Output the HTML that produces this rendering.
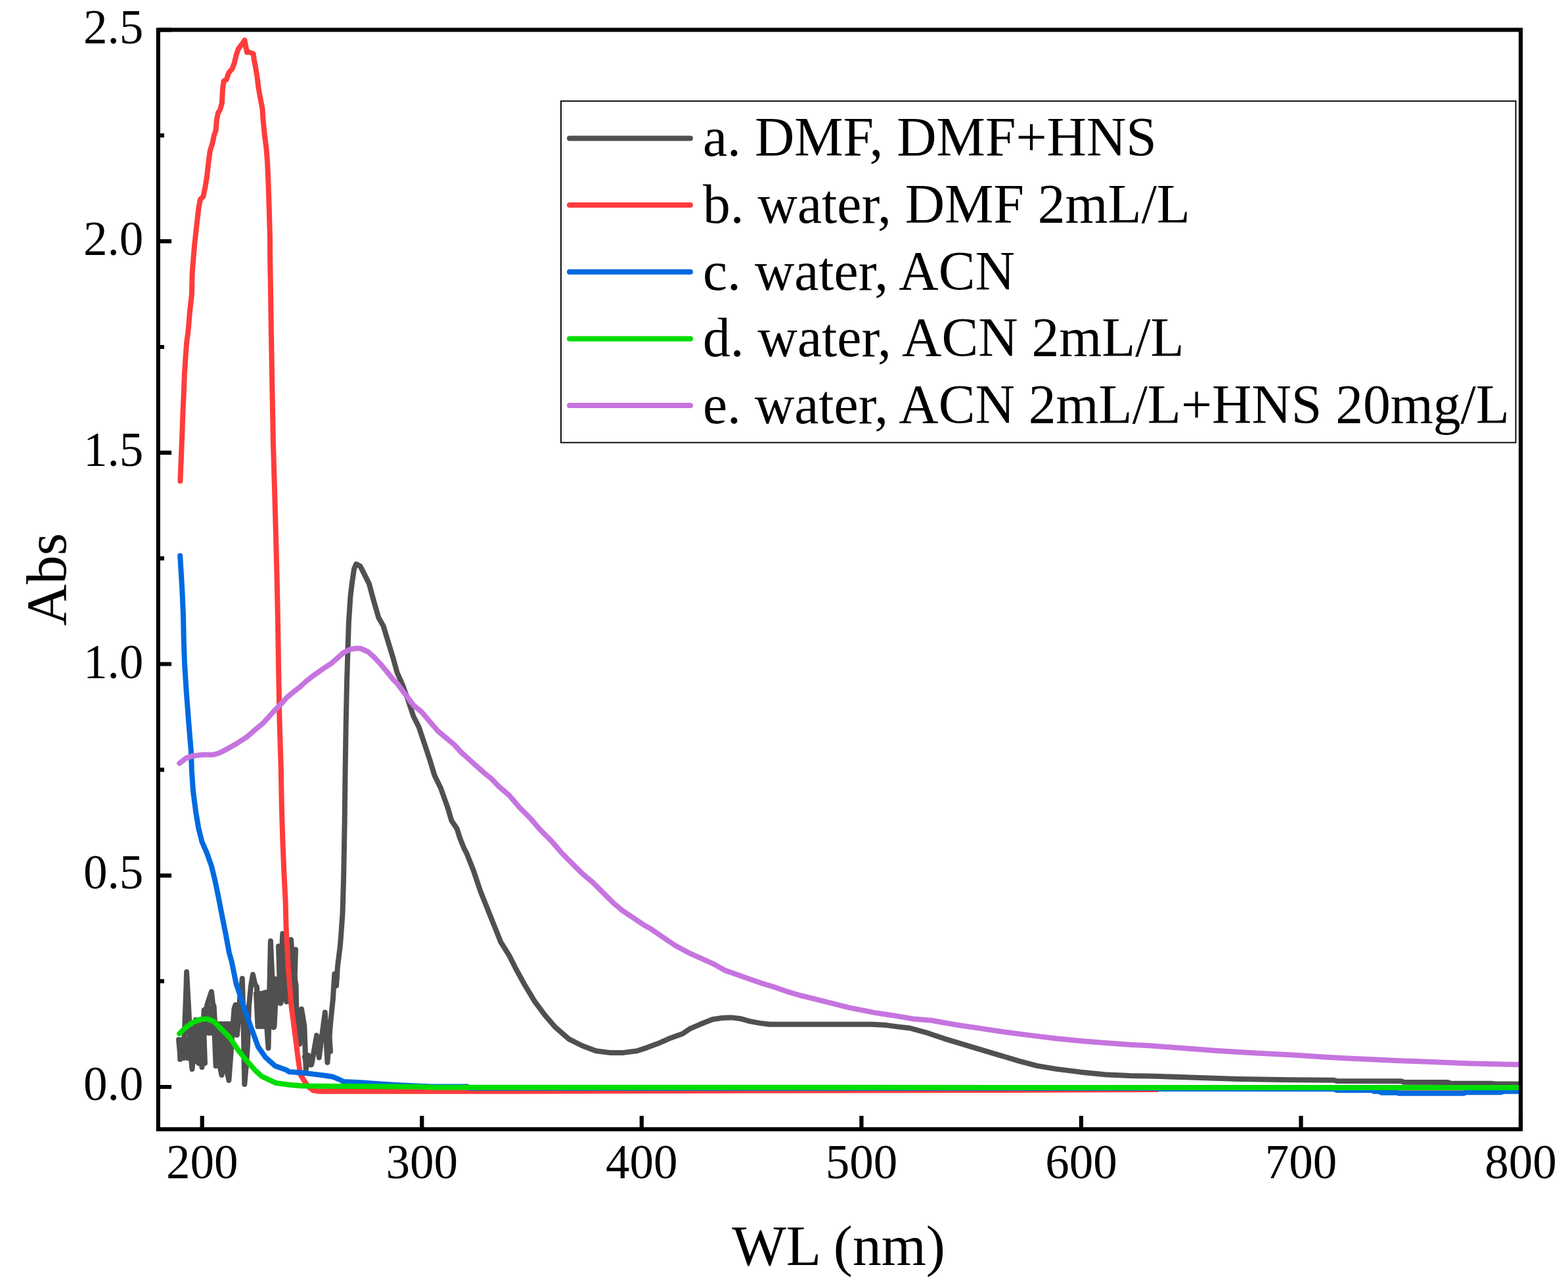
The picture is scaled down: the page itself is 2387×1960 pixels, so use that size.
<!DOCTYPE html>
<html><head><meta charset="utf-8"><title>UV-Vis absorption spectra</title>
<style>html,body{margin:0;padding:0;background:#fff;}svg{display:block;}</style>
</head><body>
<svg width="2387" height="1960" viewBox="0 0 2387 1960">
<rect width="2387" height="1960" fill="#ffffff"/>
<defs><clipPath id="pc"><rect x="240.8" y="45.4" width="2074.2" height="1673.0"/></clipPath></defs>
<g fill="none" stroke-width="8" stroke-linejoin="round" stroke-linecap="round" clip-path="url(#pc)">
<polyline stroke="#505050" points="272.0,1582.0 274.6,1610.0 277.2,1582.0 279.8,1610.0 282.4,1582.0 285.0,1610.0"/>
<polyline stroke="#505050" points="289.0,1565.0 291.8,1615.0 294.5,1565.0 297.2,1615.0 300.0,1565.0"/>
<polyline stroke="#505050" points="300.0,1570.0 302.4,1618.0 304.8,1560.0 307.2,1618.0 309.6,1550.0 312.0,1618.0"/>
<polyline stroke="#505050" points="311.0,1538.0 313.4,1572.0 315.9,1535.7 318.3,1572.0 320.7,1533.4 323.1,1572.0 325.6,1531.1 328.0,1572.0"/>
<polyline stroke="#505050" points="326.0,1558.0 328.6,1622.0 331.2,1558.0 333.8,1622.0 336.4,1558.0 339.0,1622.0 341.6,1558.0 344.2,1622.0 346.8,1558.0 349.4,1622.0 352.0,1558.0"/>
<polyline stroke="#505050" points="390.0,1512.0 392.5,1562.0 395.0,1512.0 397.5,1562.0 400.0,1512.0 402.5,1562.0 405.0,1512.0 407.5,1562.0 410.0,1512.0 412.5,1562.0 415.0,1512.0 417.5,1562.0 420.0,1512.0"/>
<polyline stroke="#505050" points="420.0,1492.0 422.5,1526.0 425.0,1492.0 427.5,1526.0 430.0,1492.0"/>
<polyline stroke="#505050" points="424.0,1440.0 426.5,1520.0 429.0,1440.0 431.5,1520.0 434.0,1440.0"/>
<polyline stroke="#505050" points="440.0,1445.0 442.5,1525.0 445.0,1445.0 447.5,1525.0 450.0,1445.0"/>
<polyline stroke="#505050" points="451.0,1540.0 453.3,1582.0 455.7,1540.0 458.0,1582.0"/>
<polyline stroke="#505050" points="464.0,1608.0 466.7,1620.0 469.3,1608.0 472.0,1620.0"/>
<polyline stroke="#505050" points="495.0,1560.0 497.7,1600.0 500.3,1560.0 503.0,1600.0"/>
<polyline stroke="#505050" points="274.2,1612.0 275.3,1584.0 280.0,1595.0 283.5,1500.0 284.1,1479.0 287.5,1540.0 290.0,1600.0 292.5,1627.0 295.0,1600.0 298.0,1552.0 300.5,1590.0 302.0,1615.0 303.5,1590.0 305.0,1560.0 306.0,1605.0 307.4,1624.0 309.5,1570.0 310.5,1537.0 314.0,1535.0 316.5,1525.0 321.9,1509.0 325.5,1540.0 327.5,1575.0 331.0,1578.0 333.0,1615.0 337.5,1636.0 340.5,1620.0 343.5,1605.0 345.5,1630.0 348.4,1644.0 351.0,1610.0 353.6,1574.0 356.5,1535.0 358.5,1529.0 360.8,1575.0 363.0,1552.0 365.0,1520.0 368.8,1489.0 370.0,1530.0 372.3,1650.0 375.0,1620.0 377.0,1590.0 379.0,1530.0 382.0,1500.0 385.0,1483.0 388.0,1497.0 391.0,1502.0 393.0,1560.0 395.0,1520.0 398.0,1512.0 405.0,1510.0 406.0,1560.0 408.5,1595.0 410.0,1520.0 411.9,1432.0 414.0,1480.0 416.5,1563.5 418.5,1495.0 420.0,1489.8 422.0,1500.0 426.9,1526.7 428.0,1470.0 430.3,1420.7 432.0,1450.0 436.1,1524.4 438.0,1480.0 443.0,1430.0 446.0,1470.0 450.6,1500.0 451.5,1549.0 456.0,1589.0 459.0,1535.6 463.3,1561.0 465.7,1627.6 469.4,1606.0 474.2,1620.3 482.1,1575.6 485.7,1609.4 494.8,1540.5 498.4,1616.7 503.3,1555.0 506.9,1520.0 509.3,1482.0 512.0,1500.0 514.0,1470.0 517.8,1440.0 519.4,1420.0 521.5,1390.0 523.1,1336.0 524.6,1253.0 525.6,1170.0 526.7,1100.0 528.1,1035.7 530.8,948.6 533.5,907.1 536.0,886.4 539.1,865.6 542.2,858.4 548.4,861.5 554.7,873.9 561.9,888.4 569.2,915.4 576.5,940.3 583.7,952.8 589.9,973.5 598.2,1000.5 604.5,1023.3 612.8,1042.0 621.0,1064.8 629.3,1089.7 637.6,1106.2 645.9,1131.1 654.2,1156.0 661.5,1180.0 670.8,1199.0 681.2,1228.0 687.4,1248.8 695.7,1261.3 700.0,1275.0 706.1,1290.3 710.4,1298.5 720.7,1324.4 731.1,1355.6 741.5,1381.5 751.9,1407.4 762.2,1433.3 775.2,1454.1 785.6,1474.8 798.5,1498.2 814.1,1524.1 829.6,1544.8 845.2,1563.0 865.9,1581.1 886.7,1591.5 907.4,1599.3 928.2,1601.9 948.9,1601.9 969.6,1599.3 985.2,1594.1 1001.4,1588.1 1018.4,1580.6 1039.2,1573.0 1050.5,1565.4 1065.7,1558.8 1084.6,1551.2 1099.7,1549.0 1113.0,1548.4 1128.1,1550.3 1141.4,1554.1 1156.5,1556.9 1171.6,1558.8 1326.8,1558.8 1349.5,1560.1 1368.4,1562.6 1385.0,1564.5 1408.4,1570.8 1436.8,1580.3 1465.1,1588.8 1493.5,1597.3 1521.9,1605.8 1550.3,1614.3 1578.7,1621.9 1607.1,1626.6 1644.9,1631.4 1682.7,1635.2 1720.6,1637.0 1760.0,1637.8 1803.9,1639.2 1884.8,1641.9 1965.7,1643.3 2031.0,1643.8 2035.0,1645.0 2133.0,1645.3 2137.0,1646.8 2204.0,1647.0 2208.0,1648.5 2271.0,1648.7 2275.0,1649.6 2315.0,1649.6"/>
<polyline stroke="#FF3C3C" points="274.4,732.0 275.3,709.4 277.0,668.0 278.4,628.5 279.8,597.4 280.9,568.4 282.5,543.5 284.0,522.7 286.7,502.0 288.7,477.0 291.9,448.0 292.7,414.3 294.4,393.6 296.1,372.9 298.4,352.1 300.7,331.4 302.5,316.4 304.8,303.7 309.4,299.1 312.3,285.3 315.1,268.0 317.4,247.3 319.7,230.0 323.5,217.8 325.8,206.3 328.6,198.2 329.8,183.2 332.1,171.7 335.0,167.1 337.9,156.8 339.0,134.9 340.7,123.3 344.8,121.0 348.2,110.7 353.4,104.9 356.9,95.7 359.2,85.3 362.6,75.0 364.9,71.5 369.5,65.7 372.4,61.1 374.1,70.3 375.9,79.6 379.9,79.6 385.7,81.9 386.8,91.1 389.1,102.6 391.4,116.4 393.7,134.9 396.6,151.0 399.5,166.0 400.6,183.2 402.9,206.3 405.3,224.7 407.0,245.0 408.4,276.5 409.7,316.0 411.0,363.6 411.1,390.0 411.7,425.0 412.8,500.0 414.2,580.8 415.9,674.0 418.0,745.0 419.6,802.0 421.5,874.8 423.0,947.4 424.2,1026.0 425.6,1100.0 427.7,1166.7 428.8,1226.9 430.4,1280.8 432.5,1330.6 434.6,1372.0 435.6,1412.3 438.9,1473.5 443.7,1533.0 448.0,1565.0 453.0,1605.0 457.2,1634.9 465.2,1648.1 471.0,1655.0 477.1,1659.5 488.0,1660.7 784.0,1660.7 1115.0,1659.8 1500.0,1659.0 1761.0,1658.1 1765.0,1656.0 2127.0,1655.7 2226.0,1655.7 2315.0,1655.7"/>
<polyline stroke="#006AE0" points="274.2,845.8 275.3,864.5 277.3,897.6 279.0,937.0 279.8,976.5 281.0,1009.7 283.6,1051.0 287.3,1100.0 290.8,1141.9 291.9,1173.0 294.0,1204.0 298.0,1235.0 302.2,1260.0 307.4,1280.8 314.7,1297.4 322.0,1318.0 327.1,1339.0 332.3,1363.8 337.5,1390.8 343.7,1421.9 348.9,1450.0 352.9,1464.2 359.4,1496.5 367.4,1520.6 377.1,1549.7 384.8,1570.3 392.9,1592.9 404.2,1609.0 418.7,1622.0 436.5,1628.4 440.0,1630.9 460.6,1632.5 479.7,1634.9 493.0,1636.5 506.2,1638.5 515.0,1642.0 523.4,1646.0 552.6,1647.5 579.0,1649.5 612.2,1651.4 651.9,1653.2 711.5,1653.4 714.0,1655.8 1115.0,1656.0 1761.0,1656.0 1765.0,1657.0 2031.0,1657.2 2035.0,1659.1 2088.0,1659.1 2092.0,1660.7 2099.0,1660.7 2103.0,1662.7 2126.0,1662.7 2130.0,1663.8 2228.0,1663.8 2232.0,1662.2 2285.0,1662.2 2289.0,1660.7 2315.0,1660.7"/>
<polyline stroke="#00DD00" points="273.1,1573.0 281.9,1564.2 293.2,1556.1 304.5,1551.3 315.8,1550.5 325.5,1554.5 336.8,1565.8 349.7,1578.7 362.6,1598.0 375.5,1614.2 388.4,1628.7 398.1,1637.6 409.4,1643.2 420.0,1648.0 440.0,1650.7 460.0,1652.6 519.5,1653.0 600.0,1653.5 640.0,1653.8 657.0,1654.7 1000.0,1654.8 2315.0,1655.0"/>
<polyline stroke="#C674DF" points="273.2,1161.6 283.6,1153.3 294.0,1150.2 308.4,1148.5 325.0,1148.5 333.3,1146.0 345.8,1139.8 360.3,1131.5 374.8,1122.2 389.3,1109.7 400.0,1101.0 409.5,1090.6 418.9,1080.2 428.4,1070.7 437.8,1060.3 447.3,1052.7 456.8,1045.1 466.2,1036.6 475.7,1029.1 485.1,1022.4 494.6,1015.8 504.1,1009.7 513.5,1001.6 523.0,993.1 532.5,988.4 541.9,986.5 549.5,987.0 560.8,992.2 570.3,1000.7 579.8,1011.1 589.2,1022.4 600.0,1035.7 604.5,1039.9 616.9,1056.5 629.3,1073.0 641.8,1083.4 654.2,1098.0 666.7,1112.5 679.1,1122.8 691.6,1133.2 701.5,1144.2 713.0,1154.6 724.6,1164.9 736.1,1175.3 747.6,1184.5 759.1,1196.6 775.2,1210.4 790.7,1228.5 806.3,1244.1 821.9,1262.2 840.0,1280.4 855.6,1298.5 871.1,1314.1 886.7,1329.6 902.2,1342.6 917.8,1358.2 933.3,1373.7 948.9,1386.7 964.5,1397.0 980.0,1407.4 990.0,1413.0 1008.9,1426.0 1027.8,1438.7 1046.8,1449.1 1065.7,1457.6 1084.6,1466.1 1103.5,1476.6 1122.5,1483.2 1141.4,1489.9 1160.3,1496.5 1179.2,1502.2 1198.1,1508.8 1217.1,1514.5 1236.0,1519.2 1254.9,1523.9 1273.8,1528.6 1292.7,1533.4 1311.7,1537.2 1330.6,1540.9 1349.5,1543.8 1368.4,1546.6 1390.0,1550.5 1417.8,1552.8 1455.7,1559.5 1493.5,1565.1 1531.4,1570.8 1569.2,1575.6 1607.1,1580.3 1644.9,1584.1 1682.7,1586.9 1720.6,1589.7 1750.0,1591.2 1803.9,1595.3 1857.8,1599.3 1911.8,1602.6 1965.7,1605.2 2019.6,1608.8 2073.5,1611.4 2127.5,1614.1 2181.4,1616.0 2235.3,1618.2 2314.8,1620.1"/>
</g>
<rect x="240.8" y="45.4" width="2074.2" height="1673.0" fill="none" stroke="#000" stroke-width="6.2" stroke-linejoin="miter"/>
<path d="M307.7,1718.3V1698.0M642.3,1718.3V1698.0M976.8,1718.3V1698.0M1311.4,1718.3V1698.0M1645.9,1718.3V1698.0M1980.5,1718.3V1698.0M2315.0,1718.3V1698.0M240.8,1654.0H261.0M240.8,1332.3H261.0M240.8,1010.5H261.0M240.8,688.8H261.0M240.8,367.1H261.0M240.8,45.4H261.0M240.8,1493.1H250.0M240.8,1171.4H250.0M240.8,849.7H250.0M240.8,528.0H250.0M240.8,206.2H250.0" stroke="#000" stroke-width="6.2" fill="none"/>
<g font-family="'Liberation Serif','Times New Roman',serif" font-size="73" fill="#000">
<text x="307.7" y="1793.3" text-anchor="middle">200</text>
<text x="642.3" y="1793.3" text-anchor="middle">300</text>
<text x="976.8" y="1793.3" text-anchor="middle">400</text>
<text x="1311.4" y="1793.3" text-anchor="middle">500</text>
<text x="1645.9" y="1793.3" text-anchor="middle">600</text>
<text x="1980.5" y="1793.3" text-anchor="middle">700</text>
<text x="2315.0" y="1793.3" text-anchor="middle">800</text>
<text x="218.2" y="1674.0" text-anchor="end">0.0</text>
<text x="218.2" y="1352.4" text-anchor="end">0.5</text>
<text x="218.2" y="1031.9" text-anchor="end">1.0</text>
<text x="218.2" y="708.7" text-anchor="end">1.5</text>
<text x="218.2" y="387.6" text-anchor="end">2.0</text>
<text x="218.2" y="65.8" text-anchor="end">2.5</text>
</g>
<text x="1276.5" y="1924.9" text-anchor="middle" font-family="'Liberation Serif','Times New Roman',serif" font-size="87.5" fill="#000">WL (nm)</text>
<text transform="translate(99.5,881.8) rotate(-90)" x="0" y="0" text-anchor="middle" font-family="'Liberation Serif','Times New Roman',serif" font-size="87.5" fill="#000">Abs</text>
<rect x="854" y="153.8" width="1453.5" height="519.7" fill="#ffffff" stroke="#000" stroke-width="1.9"/>
<line x1="867" y1="210.4" x2="1051" y2="210.4" stroke="#505050" stroke-width="8" stroke-linecap="round"/>
<text x="1070" y="237.4" font-family="'Liberation Serif','Times New Roman',serif" font-size="83.6" fill="#000">a. DMF, DMF+HNS</text>
<line x1="867" y1="312.1" x2="1051" y2="312.1" stroke="#FF3C3C" stroke-width="8" stroke-linecap="round"/>
<text x="1070" y="339.1" font-family="'Liberation Serif','Times New Roman',serif" font-size="83.6" fill="#000">b. water, DMF 2mL/L</text>
<line x1="867" y1="413.7" x2="1051" y2="413.7" stroke="#006AE0" stroke-width="8" stroke-linecap="round"/>
<text x="1070" y="440.7" font-family="'Liberation Serif','Times New Roman',serif" font-size="83.6" fill="#000">c. water, ACN</text>
<line x1="867" y1="515.4" x2="1051" y2="515.4" stroke="#00DD00" stroke-width="8" stroke-linecap="round"/>
<text x="1070" y="542.4" font-family="'Liberation Serif','Times New Roman',serif" font-size="83.6" fill="#000">d. water, ACN 2mL/L</text>
<line x1="867" y1="617.0" x2="1051" y2="617.0" stroke="#C674DF" stroke-width="8" stroke-linecap="round"/>
<text x="1070" y="644.0" font-family="'Liberation Serif','Times New Roman',serif" font-size="83.6" fill="#000">e. water, ACN 2mL/L+HNS 20mg/L</text>
</svg>
</body></html>
